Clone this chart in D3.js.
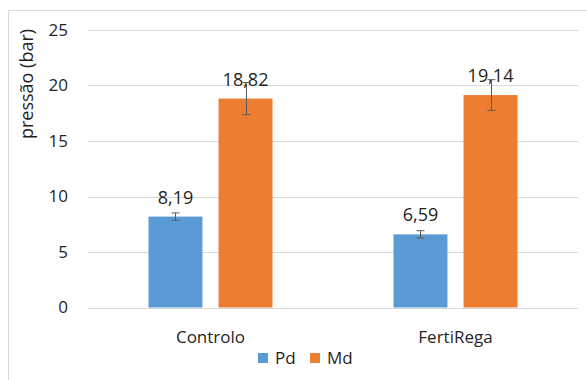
<!DOCTYPE html>
<html>
<head>
<script src="https://d3js.org/d3.v7.min.js"></script>
<style>
  body { margin: 0; background: #fff; }
  text { font-family: "Open Sans", "Liberation Sans", sans-serif; fill: #1f1f1f; }
</style>
</head>
<body>
<div id="chart"></div>
<script>
// data
var categories = ["Controlo", "FertiRega"];
var seriesNames = ["Pd", "Md"];
var pdValues = [8.19, 6.59];
var mdValues = [18.82, 19.14];
var pdErrors = [0.33, 0.33];
var mdErrors = [1.45, 1.38];
var valueLabels = { Pd: ["8,19", "6,59"], Md: ["18,82", "19,14"] };
var yTicks = [0, 5, 10, 15, 20, 25];

var colors = { Pd: "#5B9BD5", Md: "#ED7D31" };

var W = 587, H = 380;
var plotLeft = 88, plotRight = 578, plotTop = 30, plotBottom = 307.5;

var svg = d3.select("#chart").append("svg")
    .attr("width", W).attr("height", H);

// chart border (left + top)
svg.append("path")
    .attr("d", "M8.5," + H + "V10.5H" + W)
    .attr("fill", "none")
    .attr("stroke", "#D9D9D9");

var y = d3.scaleLinear().domain([0, 25]).range([plotBottom, plotTop]);
var x0 = d3.scaleBand().domain(categories).range([plotLeft, plotRight]);
var x1 = d3.scaleBand().domain(seriesNames).range([0, 124]).paddingInner(0.23);

// gridlines
svg.append("g").selectAll("line")
    .data(yTicks).enter().append("line")
    .attr("x1", plotLeft).attr("x2", plotRight)
    .attr("y1", function (d) { return Math.round(y(d)) + 0.5; })
    .attr("y2", function (d) { return Math.round(y(d)) + 0.5; })
    .attr("stroke", "#D9D9D9")
    .attr("stroke-width", 1);

// y tick labels
svg.append("g").selectAll("text")
    .data(yTicks).enter().append("text")
    .attr("x", 68)
    .attr("y", function (d) { return y(d); })
    .attr("dy", "0.35em")
    .attr("text-anchor", "end")
    .style("font-size", "17px")
    .text(function (d) { return d; });

// y axis title
svg.append("text")
    .attr("transform", "translate(27,84) rotate(-90)")
    .attr("text-anchor", "middle")
    .attr("dy", "0.35em")
    .style("font-size", "18px")
    .text("pressão (bar)");

// build rows
var rows = [];
categories.forEach(function (c, i) {
    rows.push({ cat: c, s: "Pd", v: pdValues[i], e: pdErrors[i], label: valueLabels.Pd[i] });
    rows.push({ cat: c, s: "Md", v: mdValues[i], e: mdErrors[i], label: valueLabels.Md[i] });
});

function barX(d) {
    return x0(d.cat) + (x0.bandwidth() - 124) / 2 + x1(d.s);
}

// bars
svg.append("g").selectAll("rect")
    .data(rows).enter().append("rect")
    .attr("x", barX)
    .attr("y", function (d) { return y(d.v); })
    .attr("width", x1.bandwidth())
    .attr("height", function (d) { return y(0) - y(d.v); })
    .attr("fill", function (d) { return colors[d.s]; });

// value labels
svg.append("g").selectAll("text")
    .data(rows).enter().append("text")
    .attr("x", function (d) { return barX(d) + x1.bandwidth() / 2; })
    .attr("y", function (d) { return y(d.v) - 13; })
    .attr("text-anchor", "middle")
    .style("font-size", "18px")
    .text(function (d) { return d.label; });

// error bars
var eb = svg.append("g").attr("stroke", "#595959").attr("stroke-width", 1);
rows.forEach(function (d) {
    var cx = Math.round(barX(d) + x1.bandwidth() / 2) + 0.5;
    var yt = y(d.v + d.e), yb = y(d.v - d.e);
    eb.append("line").attr("x1", cx).attr("x2", cx).attr("y1", yt).attr("y2", yb);
    eb.append("line").attr("x1", cx - 4).attr("x2", cx + 4).attr("y1", yt).attr("y2", yt);
    eb.append("line").attr("x1", cx - 4).attr("x2", cx + 4).attr("y1", yb).attr("y2", yb);
});

// category labels
svg.append("g").selectAll("text")
    .data(categories).enter().append("text")
    .attr("x", function (d) { return x0(d) + x0.bandwidth() / 2; })
    .attr("y", 337)
    .attr("dy", "0.35em")
    .attr("text-anchor", "middle")
    .style("font-size", "17px")
    .text(function (d) { return d; });

// legend
var legendX = [258, 310];
var legend = svg.append("g").selectAll("g")
    .data(seriesNames).enter().append("g")
    .attr("transform", function (d, i) { return "translate(" + legendX[i] + ",358)"; });
legend.append("rect")
    .attr("x", 0).attr("y", -5)
    .attr("width", 10).attr("height", 10)
    .attr("fill", function (d) { return colors[d]; });
legend.append("text")
    .attr("x", 17)
    .attr("dy", "0.35em")
    .style("font-size", "17px")
    .text(function (d) { return d; });
</script>
</body>
</html>
